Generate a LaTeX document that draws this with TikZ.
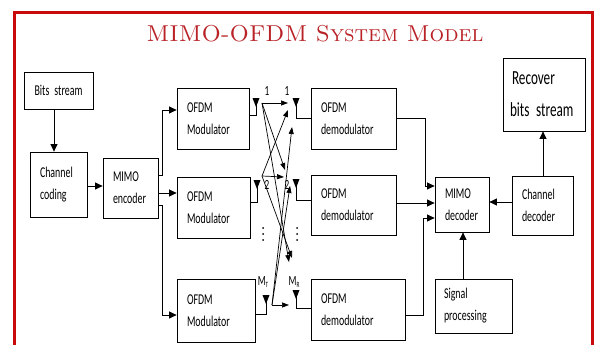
\documentclass[tikz,border=0pt]{standalone}
\usepackage{fontspec}
\newfontfamily\cf[FakeStretch=0.66]{Carlito}
\usetikzlibrary{arrows.meta}
\definecolor{framered}{RGB}{200,10,10}
\definecolor{titlered}{RGB}{185,35,40}
\begin{document}
\begin{tikzpicture}[x=1pt,y=-1pt,
  box/.style={draw, line width=0.8pt, inner xsep=10pt, inner ysep=0pt, align=left,
    font=\cf\fontsize{15}{22}\selectfont},
  arr/.style={line width=0.8pt, -{Triangle[length=7.5pt,width=7pt]}},
  xarr/.style={line width=0.7pt, -{Triangle[length=7pt,width=5pt]}},
  wire/.style={line width=0.8pt},
  lbl/.style={font=\cf\fontsize{14}{14}\selectfont, inner sep=0pt},
  ant/.pic={\fill (-3.5,0) -- (3.5,0) -- (0,9) -- cycle;}
]
\useasboundingbox (0,0) rectangle (597,345);
\fill[white] (0,0) rectangle (597,345);
% frame
\draw[framered, line width=3pt] (14.5,346) -- (14.5,12.5) -- (592.5,12.5) -- (592.5,346);
% title
\node[text=titlered, font=\fontsize{23}{23}\selectfont, inner sep=0pt] (title) at (315,34) {\textsc{MIMO-OFDM System Model}};

% boxes
\node[box, align=center, minimum height=37pt, text width=49pt] (bits) at (58.5,90.5) {Bits stream};
\node[box, minimum height=65pt, text width=37pt] (chan) at (58.5,184.5) {Channel\\coding};
\node[box, minimum height=60pt, text width=35pt] (enc) at (130.5,188) {MIMO\\encoder};
\node[box, minimum height=61pt, text width=52pt] (mod1) at (213,118.5) {OFDM\\Modulator};
\node[box, minimum height=61pt, text width=53pt] (mod2) at (213.5,207.5) {OFDM\\Modulator};
\node[box, minimum height=63pt, text width=58pt] (mod3) at (216,310.5) {OFDM\\Modulator};
\node[box, minimum height=61pt, text width=65pt] (dem1) at (353.5,118.5) {OFDM\\demodulator};
\node[box, minimum height=60pt, text width=65pt] (dem2) at (353.5,205) {OFDM\\demodulator};
\node[box, minimum height=61pt, text width=74pt] (dem3) at (358,309.5) {OFDM\\demodulator};
\node[box, minimum height=55pt, text width=34pt] (dec) at (462,204.5) {MIMO\\decoder};
\node[box, minimum height=59pt, text width=41pt] (cdec) at (542.5,205.5) {Channel\\decoder};
\node[box, minimum height=54pt, inner xsep=9pt, text width=59pt] (sig) at (473.5,306) {Signal\\processing};
\node[box, minimum height=73pt, inner xsep=7pt, text width=68pt, font=\cf\fontsize{20}{32}\selectfont] (rec) at (544,94.5) {\hspace*{2pt}Recover\\bits stream};

% left chain
\draw[arr] (bits.south -| 54,0) -- (chan.north -| 54,0);
\draw[arr] (chan.east |- 0,186) -- (enc.west |- 0,186);
\draw[arr] (enc.east |- 0,175) -- (162,175) -- (162,110) -- (mod1.west |- 0,110);
\draw[arr] (enc.east |- 0,193) -- (mod2.west |- 0,193);
\draw[arr] (enc.east |- 0,205) -- (162,205) -- (162,315) -- (mod3.west |- 0,315);

% transmit antennas
\draw[wire] (mod1.east |- 0,115) -- (256,115) -- (256,104);
\pic at (256,98) {ant};
\draw[wire] (mod2.east |- 0,202) -- (257,202) -- (257,186);
\pic at (257,180) {ant};
\draw[wire] (mod3.east |- 0,314) -- (266,314) -- (266,301);
\pic at (266,295) {ant};

% receive antennas
\draw[wire] (dem1.west |- 0,118) -- (296,118) -- (296,104);
\pic at (296,98) {ant};
\draw[wire] (dem2.west |- 0,200) -- (296,200) -- (296,185);
\pic at (296,179) {ant};
\draw[wire] (dem3.west |- 0,308) -- (296,308) -- (296,296);
\pic at (296,290) {ant};

% antenna labels
\node[lbl] (l1a) at (267,91) {1};
\node[lbl] (l1b) at (287,91) {1};
\node[lbl] (l2a) at (267,185) {2};
\node[lbl] (l2b) at (287,185) {2};
\node[lbl] (lmt) at (263,282) {M\raisebox{-2pt}{\fontsize{8}{8}\selectfont T}};
\node[lbl] (lmr) at (294,282) {M\raisebox{-2pt}{\fontsize{8}{8}\selectfont R}};
% vertical dots
\foreach \yy in {228,234,240} {
  \fill (263,\yy) circle (1pt);
  \fill (297,\yy) circle (1pt);
}

% channel crossings
\coordinate (t1) at (262,103);
\coordinate (t2) at (262,176);
\coordinate (tm) at (272,305);
\coordinate (r11) at (288,103);
\coordinate (r12) at (285,170);
\coordinate (r13) at (289,262);
\coordinate (r21) at (288,110);
\coordinate (r22) at (284,177);
\coordinate (r23) at (292,258);
\coordinate (r31) at (292,127);
\coordinate (r32) at (290,186);
\coordinate (r33) at (289,305);
\draw[xarr] (t1) -- (r11);
\draw[xarr] (t1) -- (r12);
\draw[xarr] (t1) -- (r13);
\draw[xarr] (t2) -- (r21);
\draw[xarr] (t2) -- (r22);
\draw[xarr] (t2) -- (r23);
\draw[xarr] (tm) -- (r31);
\draw[xarr] (tm) -- (r32);
\draw[xarr] (tm) -- (r33);

% right chain
\draw[arr] (dem1.east |- 0,118) -- (425,118) -- (425,186) -- (dec.west |- 0,186);
\draw[arr] (dem2.east |- 0,203) -- (dec.west |- 0,203);
\draw[arr] (dem3.east |- 0,315) -- (423,315) -- (423,218) -- (dec.west |- 0,218);
\draw[arr] (cdec.west |- 0,202) -- (dec.east |- 0,202);
\draw[arr] (cdec.north -| 543,0) -- (rec.south -| 543,0);
\draw[arr] (sig.north -| 463,0) -- (dec.south -| 463,0);
\end{tikzpicture}
\end{document}
